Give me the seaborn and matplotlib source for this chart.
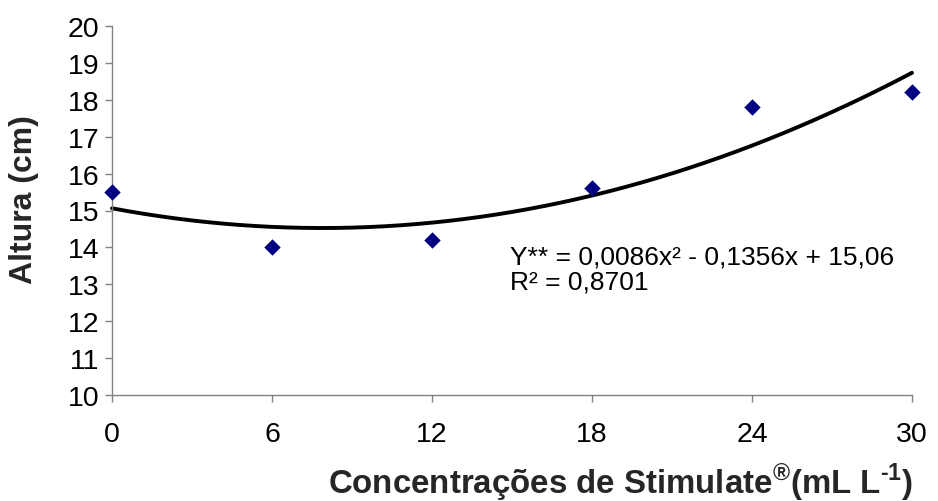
import numpy as np
import pandas as pd
import matplotlib
matplotlib.use("Agg")
import matplotlib.pyplot as plt
import seaborn as sns

# Measured plant height for each Stimulate concentration
concentracoes = [0, 6, 12, 18, 24, 30]
altura = [15.5, 14.0, 14.2, 15.6, 17.8, 18.2]

# Quadratic regression reported for the data
coef_a = 0.0086
coef_b = -0.1356
coef_c = 15.06
r2 = 0.8701

x_ticks = [0, 6, 12, 18, 24, 30]
y_ticks = [10, 11, 12, 13, 14, 15, 16, 17, 18, 19, 20]

sns.set_theme(style="white")
plt.rcParams["font.family"] = ["Liberation Sans", "DejaVu Sans"]
plt.rcParams["mathtext.fontset"] = "custom"
plt.rcParams["mathtext.rm"] = "Liberation Sans:bold"
plt.rcParams["mathtext.bf"] = "Liberation Sans:bold"

W, H = 938, 502
fig = plt.figure(figsize=(W / 100, H / 100), dpi=100)
ax = fig.add_axes([112 / W, 1 - 396 / H, 800 / W, 369 / H])

df = pd.DataFrame({"x": concentracoes, "y": altura})
xs = np.linspace(0, 30, 301)
curve = pd.DataFrame({"x": xs, "y": coef_a * xs**2 + coef_b * xs + coef_c})

sns.lineplot(data=curve, x="x", y="y", ax=ax, color="black", linewidth=2.8,
             clip_on=False, zorder=2)
sns.scatterplot(data=df, x="x", y="y", ax=ax, marker="D", s=70,
                color="#000080", edgecolor="#000080", linewidth=0,
                clip_on=False, zorder=3)

ax.set_xlim(0, 30)
ax.set_ylim(10, 20)
ax.set_xticks(x_ticks)
ax.set_yticks(y_ticks)
ax.set_xticklabels([str(v) for v in x_ticks])
ax.set_yticklabels([str(v) for v in y_ticks])

for side in ("top", "right"):
    ax.spines[side].set_visible(False)
for side in ("left", "bottom"):
    ax.spines[side].set_color("#808080")
    ax.spines[side].set_linewidth(1.0)

ax.tick_params(axis="both", which="major", direction="out", length=5,
               width=1.0, color="#808080", labelsize=20.5, labelcolor="black",
               left=True, bottom=True)
ax.tick_params(axis="x", pad=14)
ax.tick_params(axis="y", pad=4)
ax.set_xlabel("")
ax.set_ylabel("")

# Axis titles
fig.text(621 / W, 1 - 482 / H,
         r"Concentrações de Stimulate$^{\mathrm{®}}$(mL L$^{\mathrm{\text{-}1}}$)",
         fontsize=23.8, fontweight="bold", ha="center", va="center")
fig.text(24 / W, 1 - 200 / H, "Altura (cm)", rotation=90,
         fontsize=23, fontweight="bold", ha="center", va="center")

# Regression equation
eq = "Y** = 0,0086x² - 0,1356x + 15,06\nR² = 0,8701"
fig.text(510 / W, 1 - 246 / H, eq, fontsize=19, ha="left", va="top",
         linespacing=1.05, color="black")

ax.grid(False)
fig.savefig("out.png", dpi=100)
